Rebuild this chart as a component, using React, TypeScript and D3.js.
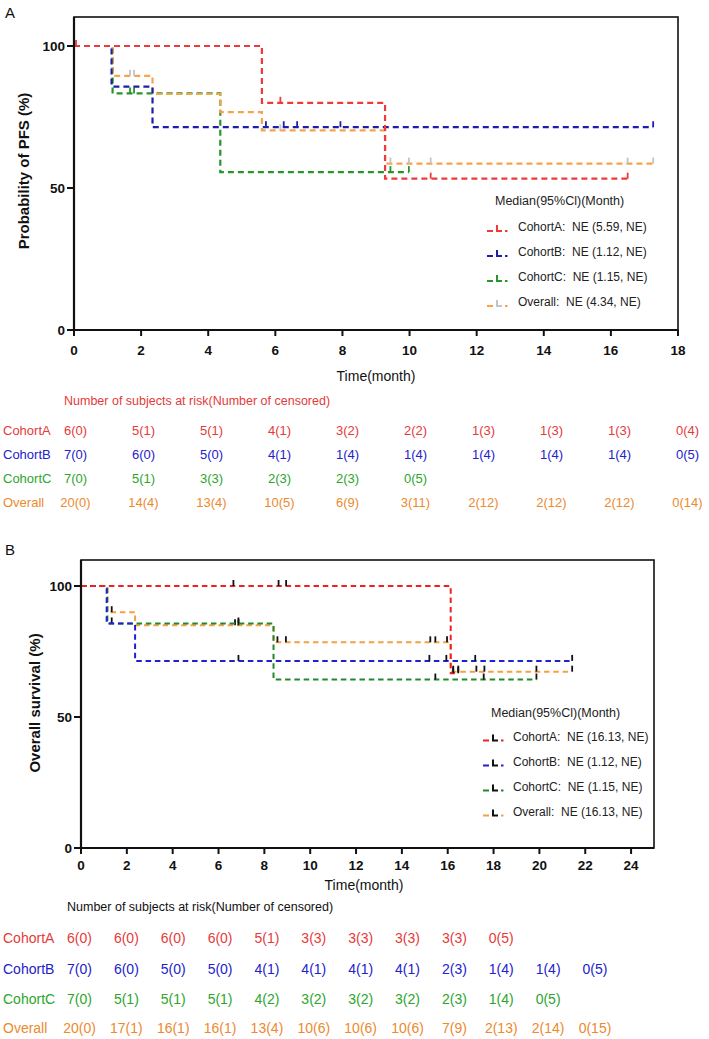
import React from 'react';
import * as d3 from 'd3';

type Step = [number, number];

const FONT = "'Liberation Sans', Arial, Helvetica, sans-serif";

// ---------- Panel A: progression-free survival ----------
const pfsTimeTicks = [0, 2, 4, 6, 8, 10, 12, 14, 16, 18];
const survTicks = [0, 50, 100];

const pfsCohortASteps: Step[] = [[0, 100], [5.6, 80], [9.27, 53.3]];
const pfsCohortAEnd = 16.5;
const pfsCohortACensored = [0.06, 6.15, 10.63, 16.5];

const pfsCohortBSteps: Step[] = [[0, 100], [1.12, 85.7], [2.34, 71.4]];
const pfsCohortBEnd = 17.26;
const pfsCohortBCensored = [5.72, 6.25, 6.65, 7.94, 17.26];

const pfsCohortCSteps: Step[] = [[0, 100], [1.15, 83.3], [4.36, 55.6]];
const pfsCohortCEnd = 9.98;
const pfsCohortCCensored = [1.67, 1.79, 9.43, 9.98];

const pfsOverallSteps: Step[] = [[0, 100], [1.15, 89.5], [2.34, 83.1], [4.36, 76.7], [5.6, 70.3], [9.27, 58.6]];
const pfsOverallEnd = 17.26;
const pfsOverallCensored = [1.67, 1.79, 6.15, 9.43, 9.98, 10.63, 16.5, 17.26];

const pfsLegendTitle = 'Median(95%Cl)(Month)';
const pfsLegendLabels = ['CohortA:  NE (5.59, NE)', 'CohortB:  NE (1.12, NE)', 'CohortC:  NE (1.15, NE)', 'Overall:  NE (4.34, NE)'];

const riskTitle = 'Number of subjects at risk(Number of censored)';
const groupNames = ['CohortA', 'CohortB', 'CohortC', 'Overall'];

const pfsRiskA = ['6(0)', '5(1)', '5(1)', '4(1)', '3(2)', '2(2)', '1(3)', '1(3)', '1(3)', '0(4)'];
const pfsRiskB = ['7(0)', '6(0)', '5(0)', '4(1)', '1(4)', '1(4)', '1(4)', '1(4)', '1(4)', '0(5)'];
const pfsRiskC = ['7(0)', '5(1)', '3(3)', '2(3)', '2(3)', '0(5)'];
const pfsRiskO = ['20(0)', '14(4)', '13(4)', '10(5)', '6(9)', '3(11)', '2(12)', '2(12)', '2(12)', '0(14)'];

// ---------- Panel B: overall survival ----------
const osTimeTicks = [0, 2, 4, 6, 8, 10, 12, 14, 16, 18, 20, 22, 24];

const osCohortASteps: Step[] = [[0, 100], [16.13, 66.7]];
const osCohortAEnd = 16.46;
const osCohortACensored = [6.65, 8.62, 8.95, 16.24, 16.46];

const osCohortBSteps: Step[] = [[0, 100], [1.12, 85.7], [2.36, 71.4]];
const osCohortBEnd = 21.43;
const osCohortBCensored = [6.87, 15.2, 15.94, 17.2, 21.43];

const osCohortCSteps: Step[] = [[0, 100], [1.15, 85.7], [8.4, 64.3]];
const osCohortCEnd = 19.87;
const osCohortCCensored = [1.34, 6.87, 15.46, 17.57, 19.87];

const osOverallSteps: Step[] = [[0, 100], [1.15, 90], [2.36, 85], [8.4, 78.5], [16.13, 67.3]];
const osOverallEnd = 21.43;
const osOverallCensored = [1.34, 6.72, 6.87, 8.57, 8.94, 15.24, 15.46, 15.97, 16.24, 16.46, 17.25, 17.6, 19.87, 21.43];

const osLegendTitle = 'Median(95%Cl)(Month)';
const osLegendLabels = ['CohortA:  NE (16.13, NE)', 'CohortB:  NE (1.12, NE)', 'CohortC:  NE (1.15, NE)', 'Overall:  NE (16.13, NE)'];

const osRiskA = ['6(0)', '6(0)', '6(0)', '6(0)', '5(1)', '3(3)', '3(3)', '3(3)', '3(3)', '0(5)'];
const osRiskB = ['7(0)', '6(0)', '5(0)', '5(0)', '4(1)', '4(1)', '4(1)', '4(1)', '2(3)', '1(4)', '1(4)', '0(5)'];
const osRiskC = ['7(0)', '5(1)', '5(1)', '5(1)', '4(2)', '3(2)', '3(2)', '3(2)', '2(3)', '1(4)', '0(5)'];
const osRiskO = ['20(0)', '17(1)', '16(1)', '16(1)', '13(4)', '10(6)', '10(6)', '10(6)', '7(9)', '2(13)', '2(14)', '0(15)'];

// months between successive at-risk columns
const riskInterval = 2;

// ---------- styling ----------
const pfsLineColors = ['#ee3a3a', '#1e1eaa', '#27952a', '#f6a349'];
const pfsCensorColors = ['#ee3a3a', '#1e1eaa', '#27952a', '#c4c4c4'];
const osLineColors = ['#ee2222', '#2020d0', '#22892a', '#f5a043'];
const osCensorColors = ['#111', '#111', '#111', '#111'];
const riskTextColors = ['#e53a3a', '#2222cc', '#2ca52c', '#ec8a2e'];

interface Series {
  steps: Step[];
  end: number;
  censored: number[];
  color: string;
  censorColor: string;
}

interface PanelCfg {
  letter: string;
  letterY: number;
  left: number;
  right: number;
  top: number;
  bottom: number;
  y100: number;
  xMax: number;
  timeTicks: number[];
  tickLabelY: number;
  xTitleX: number;
  xTitleY: number;
  yTitle: string;
  yTitleX: number;
  yTitleY: number;
  dash: string;
  lineWidth: number;
  series: Series[];
  drawOrder: number[];
  legendTitle: string;
  legendLabels: string[];
  legendTitleX: number;
  legendTitleY: number;
  legendMarkerX: number;
  legendTextX: number;
  legendRowY: number[];
  riskTitleColor: string;
  riskTitleX: number;
  riskTitleY: number;
  riskRowY: number[];
  riskFont: number;
  riskColRange: [number, number];
  riskMaxTime: number;
  riskRows: string[][];
}

function valueAt(steps: Step[], t: number): number {
  let v = steps[0][1];
  for (const [st, sv] of steps) if (st <= t) v = sv;
  return v;
}

function Panel({ p }: { p: PanelCfg }) {
  const x = d3.scaleLinear().domain([0, p.xMax]).range([p.left, p.right]);
  const y = d3.scaleLinear().domain([0, 100]).range([p.bottom, p.y100]);
  const line = d3
    .line<Step>()
    .x((d) => x(d[0]))
    .y((d) => y(d[1]))
    .curve(d3.curveStepAfter);
  const riskX = d3.scaleLinear().domain([0, p.riskMaxTime]).range(p.riskColRange);

  return (
    <g>
      <text x={5} y={p.letterY} fontSize={15} fontFamily={FONT} fill="#111">
        {p.letter}
      </text>

      {/* curves */}
      {p.drawOrder.map((i) => {
        const s = p.series[i];
        const pts: Step[] = [...s.steps, [s.end, s.steps[s.steps.length - 1][1]]];
        return (
          <g key={i}>
            <path d={line(pts) || ''} fill="none" stroke={s.color} strokeWidth={p.lineWidth} strokeDasharray={p.dash} />
            {s.censored.map((t, k) => {
              const cx = x(t);
              const cy = y(valueAt(s.steps, t));
              return <line key={k} x1={cx} x2={cx} y1={cy} y2={cy - 6} stroke={s.censorColor} strokeWidth={1.8} />;
            })}
          </g>
        );
      })}

      {/* frame and axes */}
      <rect x={p.left} y={p.top} width={p.right - p.left} height={p.bottom - p.top} fill="none" stroke="#111" strokeWidth={1.6} />
      <line x1={p.left} x2={p.left} y1={p.top} y2={p.bottom} stroke="#111" strokeWidth={2.2} />
      <line x1={p.left} x2={p.right} y1={p.bottom} y2={p.bottom} stroke="#111" strokeWidth={2.2} />
      {survTicks.map((v) => (
        <g key={v}>
          <line x1={p.left - 7} x2={p.left} y1={y(v)} y2={y(v)} stroke="#111" strokeWidth={2} />
          <text x={p.left - 9} y={y(v)} dy="0.36em" textAnchor="end" fontSize={13.5} fontWeight="bold" fontFamily={FONT} fill="#111">
            {v}
          </text>
        </g>
      ))}
      {p.timeTicks.map((t) => (
        <g key={t}>
          <line x1={x(t)} x2={x(t)} y1={p.bottom} y2={p.bottom + 6} stroke="#111" strokeWidth={2} />
          <text x={x(t)} y={p.tickLabelY} textAnchor="middle" fontSize={13.5} fontWeight="bold" fontFamily={FONT} fill="#111">
            {t}
          </text>
        </g>
      ))}
      <text x={p.xTitleX} y={p.xTitleY} textAnchor="middle" fontSize={14} fontFamily={FONT} fill="#111">
        Time(month)
      </text>
      <text
        transform={`translate(${p.yTitleX},${p.yTitleY}) rotate(-90)`}
        textAnchor="middle"
        dominantBaseline="middle"
        fontSize={15}
        fontWeight="bold"
        fontFamily={FONT}
        fill="#111"
      >
        {p.yTitle}
      </text>

      {/* legend */}
      <text x={p.legendTitleX} y={p.legendTitleY} fontSize={12.5} fontFamily={FONT} fill="#222">
        {p.legendTitle}
      </text>
      {p.legendLabels.map((lab, i) => {
        const s = p.series[i];
        const ly = p.legendRowY[i];
        const mx = p.legendMarkerX;
        return (
          <g key={lab}>
            <line x1={mx} x2={mx + 6} y1={ly} y2={ly} stroke={s.color} strokeWidth={2} />
            <path d={`M${mx + 10},${ly - 6} V${ly} H${mx + 15}`} fill="none" stroke={s.censorColor} strokeWidth={2} />
            <line x1={mx + 18} x2={mx + 20.5} y1={ly} y2={ly} stroke={s.color} strokeWidth={2} />
            <text x={p.legendTextX} y={ly} fontSize={12} fontFamily={FONT} fill="#222" style={{ whiteSpace: 'pre' }}>
              {lab}
            </text>
          </g>
        );
      })}

      {/* number at risk */}
      <text x={p.riskTitleX} y={p.riskTitleY} fontSize={12.5} fontFamily={FONT} fill={p.riskTitleColor}>
        {riskTitle}
      </text>
      {p.riskRows.map((row, r) => (
        <g key={r} fill={riskTextColors[r]} fontFamily={FONT} fontSize={p.riskFont}>
          <text x={3} y={p.riskRowY[r]}>
            {groupNames[r]}
          </text>
          {row.map((v, k) => (
            <text key={k} x={riskX(k * riskInterval)} y={p.riskRowY[r]} textAnchor="middle">
              {v}
            </text>
          ))}
        </g>
      ))}
    </g>
  );
}

const pfsPanel: PanelCfg = {
  letter: 'A',
  letterY: 18,
  left: 74,
  right: 678,
  top: 17,
  bottom: 330,
  y100: 46,
  xMax: 18,
  timeTicks: pfsTimeTicks,
  tickLabelY: 355,
  xTitleX: 376,
  xTitleY: 381,
  yTitle: 'Probability of PFS (%)',
  yTitleX: 25,
  yTitleY: 171,
  dash: '6,4',
  lineWidth: 2.2,
  series: [
    { steps: pfsCohortASteps, end: pfsCohortAEnd, censored: pfsCohortACensored, color: pfsLineColors[0], censorColor: pfsCensorColors[0] },
    { steps: pfsCohortBSteps, end: pfsCohortBEnd, censored: pfsCohortBCensored, color: pfsLineColors[1], censorColor: pfsCensorColors[1] },
    { steps: pfsCohortCSteps, end: pfsCohortCEnd, censored: pfsCohortCCensored, color: pfsLineColors[2], censorColor: pfsCensorColors[2] },
    { steps: pfsOverallSteps, end: pfsOverallEnd, censored: pfsOverallCensored, color: pfsLineColors[3], censorColor: pfsCensorColors[3] },
  ],
  drawOrder: [2, 3, 1, 0],
  legendTitle: pfsLegendTitle,
  legendLabels: pfsLegendLabels,
  legendTitleX: 495,
  legendTitleY: 205,
  legendMarkerX: 487,
  legendTextX: 518,
  legendRowY: [231, 256, 281, 306],
  riskTitleColor: '#e53a3a',
  riskTitleX: 64,
  riskTitleY: 405,
  riskRowY: [434.5, 458.5, 482.5, 506.5],
  riskFont: 13,
  riskColRange: [75.5, 687.5],
  riskMaxTime: 18,
  riskRows: [pfsRiskA, pfsRiskB, pfsRiskC, pfsRiskO],
};

const osPanel: PanelCfg = {
  letter: 'B',
  letterY: 555,
  left: 81,
  right: 654,
  top: 560,
  bottom: 848,
  y100: 586,
  xMax: 25,
  timeTicks: osTimeTicks,
  tickLabelY: 870,
  xTitleX: 364,
  xTitleY: 890,
  yTitle: 'Overall survival (%)',
  yTitleX: 36,
  yTitleY: 703,
  dash: '5.5,3.8',
  lineWidth: 2,
  series: [
    { steps: osCohortASteps, end: osCohortAEnd, censored: osCohortACensored, color: osLineColors[0], censorColor: osCensorColors[0] },
    { steps: osCohortBSteps, end: osCohortBEnd, censored: osCohortBCensored, color: osLineColors[1], censorColor: osCensorColors[1] },
    { steps: osCohortCSteps, end: osCohortCEnd, censored: osCohortCCensored, color: osLineColors[2], censorColor: osCensorColors[2] },
    { steps: osOverallSteps, end: osOverallEnd, censored: osOverallCensored, color: osLineColors[3], censorColor: osCensorColors[3] },
  ],
  drawOrder: [3, 2, 1, 0],
  legendTitle: osLegendTitle,
  legendLabels: osLegendLabels,
  legendTitleX: 491,
  legendTitleY: 716.5,
  legendMarkerX: 483,
  legendTextX: 513,
  legendRowY: [740.5, 765.5, 790.5, 815.5],
  riskTitleColor: '#111',
  riskTitleX: 67,
  riskTitleY: 911,
  riskRowY: [943, 974, 1004, 1033],
  riskFont: 14,
  riskColRange: [79.5, 595],
  riskMaxTime: 22,
  riskRows: [osRiskA, osRiskB, osRiskC, osRiskO],
};

export default function App() {
  return (
    <svg
      width={709}
      height={1039}
      viewBox="0 0 709 1039"
      style={{ position: 'absolute', left: 0, top: 0, background: '#fff' }}
    >
      <rect width={709} height={1039} fill="#fff" />
      <Panel p={pfsPanel} />
      <Panel p={osPanel} />
    </svg>
  );
}
